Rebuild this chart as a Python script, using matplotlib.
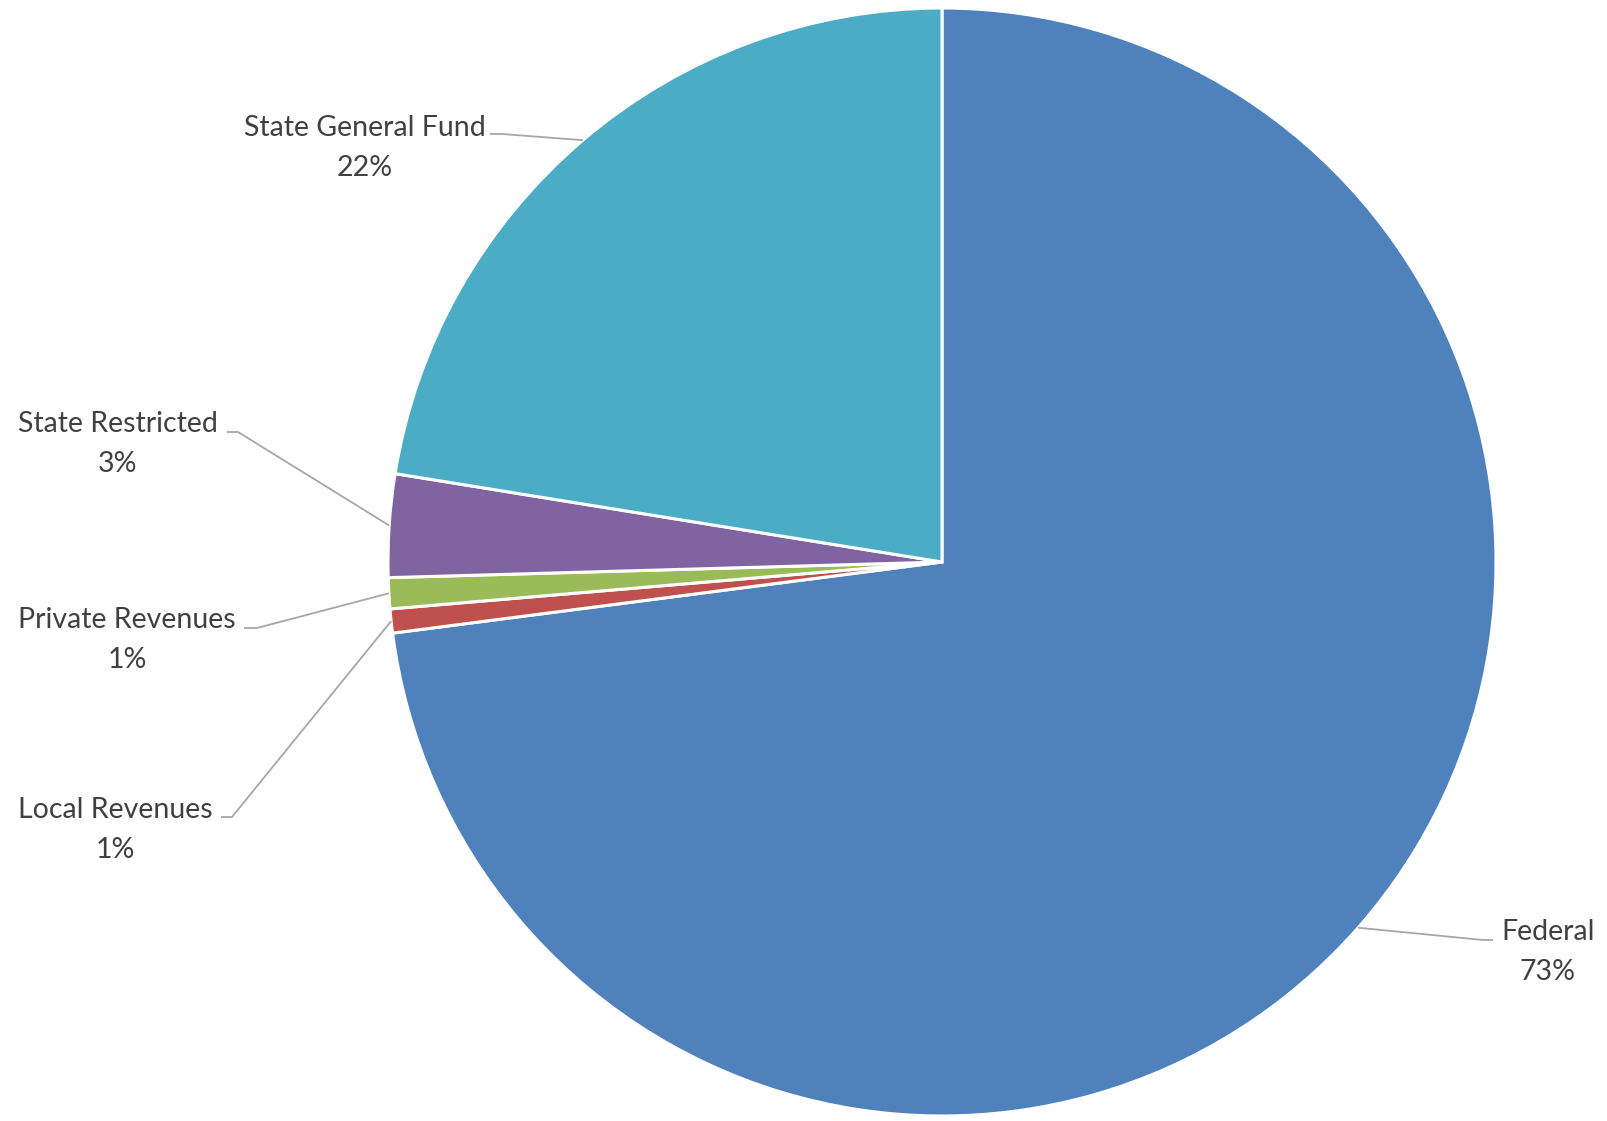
import matplotlib.pyplot as plt
import numpy as np

plt.rcParams['font.family'] = ['Lato', 'DejaVu Sans']

categories = ['Federal', 'Local Revenues', 'Private Revenues', 'State Restricted', 'State General Fund']
shares = [72.95, 0.7, 0.9, 3.0, 22.45]
colors = ['#4F81BD', '#C0504D', '#9BBB59', '#8064A2', '#4BACC6']

W, H = 1608, 1121
fig = plt.figure(figsize=(W / 100, H / 100), dpi=100)
ax = fig.add_axes([0, 0, 1, 1])

# pie in pixel units, y axis points down (so ccw in data = clockwise on screen)
cx, cy, r = 942, 562, 554
wedges, _ = ax.pie(shares, colors=colors, startangle=-90, counterclock=True,
                   radius=r, center=(cx, cy),
                   wedgeprops=dict(edgecolor='white', linewidth=2.2))
ax.set_xlim(0, W)
ax.set_ylim(H, 0)
ax.set_aspect('equal')
ax.axis('off')

# label layout: text centre, end of leader next to text, elbow x
label_pos = [(1548, 952), (115, 830), (127, 640), (118, 444), (365, 148)]
leader = [(1493, 940, 1483), (221, 817, 232), (244, 628, 257), (227, 432, 238), (490, 134, 502)]

for w, name, v, (tx, ty), (ex, ey, bx) in zip(wedges, categories, shares, label_pos, leader):
    mid = np.deg2rad((w.theta1 + w.theta2) / 2)
    sx = cx + r * np.cos(mid)
    sy = cy + r * np.sin(mid)
    ax.plot([sx, bx, ex], [sy, ey, ey], color='#A6A6A6', lw=1.3, solid_capstyle='butt')
    ax.text(tx, ty, f'{name}\n{v:.0f}%', ha='center', va='center',
            fontsize=20.5, color='#404040', linespacing=1.65)

fig.savefig('out.png', dpi=100, facecolor='white')
